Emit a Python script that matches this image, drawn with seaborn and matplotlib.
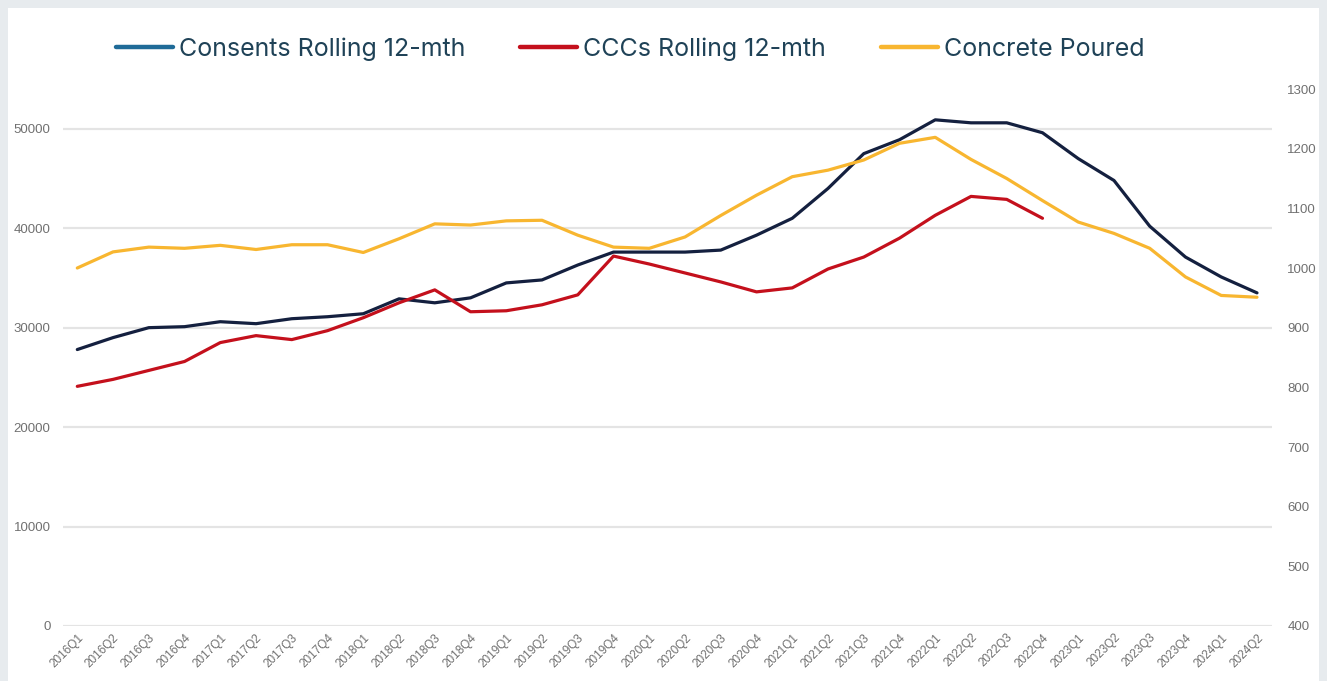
import numpy as np
import pandas as pd
import matplotlib
matplotlib.use('Agg')
import matplotlib.pyplot as plt
from matplotlib.lines import Line2D
from matplotlib.patches import Rectangle
import seaborn as sns

# Quarters shown on the x axis.
quarters = [f'{y}Q{q}' for y in range(2016, 2025) for q in range(1, 5)][:34]

# Values.
consents = [27800, 29000, 30000, 30100, 30600, 30400, 30900, 31100, 31400, 32900,
            32500, 33000, 34500, 34800, 36300, 37600, 37600, 37600, 37800, 39300,
            41000, 44000, 47500, 48900, 50900, 50600, 50600, 49600, 47000, 44800,
            40200, 37100, 35100, 33500]
cccs = [24100, 24800, 25700, 26600, 28500, 29200, 28800, 29700, 31000, 32500,
        33800, 31600, 31700, 32300, 33300, 37200, 36400, 35500, 34600, 33600,
        34000, 35900, 37100, 39000, 41300, 43200, 42900, 41000]
concrete = [1000, 1027, 1035, 1033, 1038, 1031, 1039, 1039, 1026, 1049,
            1074, 1072, 1079, 1080, 1055, 1035, 1033, 1052, 1088, 1122,
            1153, 1164, 1181, 1209, 1219, 1182, 1150, 1113, 1077, 1058,
            1033, 985, 954, 951]

left_ticks = [0, 10000, 20000, 30000, 40000, 50000]
right_ticks = [400, 500, 600, 700, 800, 900, 1000, 1100, 1200, 1300]

df = pd.DataFrame({'pos': np.arange(len(quarters)), 'quarter': quarters,
                   'consents': consents, 'concrete': concrete})
df_ccc = pd.DataFrame({'pos': np.arange(len(cccs)), 'cccs': cccs})

navy = '#14203f'
red = '#c4101c'
gold = '#f8b630'

sns.set_style('white')
fig = plt.figure(figsize=(13.27, 6.81), dpi=100)
fig.patch.set_facecolor('#e7ebee')
# white card on the grey page
fig.patches.append(Rectangle((8 / 1327, 0), 1311 / 1327, 673 / 681,
                             transform=fig.transFigure, facecolor='white',
                             edgecolor='none', zorder=-10))

ax = fig.add_axes([63 / 1327, 55 / 681, 1209 / 1327, 537 / 681])
ax.patch.set_alpha(0)
ax2 = ax.twinx()
ax2.patch.set_alpha(0)

sns.lineplot(data=df, x='pos', y='consents', ax=ax, color=navy, linewidth=2.3)
sns.lineplot(data=df_ccc, x='pos', y='cccs', ax=ax, color=red, linewidth=2.3)
sns.lineplot(data=df, x='pos', y='concrete', ax=ax2, color=gold, linewidth=2.3)

for line in ax.lines + ax2.lines:
    line.set_solid_joinstyle('round')
    line.set_solid_capstyle('round')

ax.set_xlim(-0.4, 33.42)
ax.set_ylim(0, 54000)
ax2.set_ylim(400, 1300)

ax.set_yticks(left_ticks)
ax2.set_yticks(right_ticks)
ax.set_xticks(df['pos'])
ax.set_xticklabels(quarters, rotation=45, ha='right', rotation_mode='anchor')

ax.yaxis.grid(True, color='#e4e4e4', linewidth=1.6)
ax.xaxis.grid(False)
ax2.grid(False)
ax.set_axisbelow(True)
for a in (ax, ax2):
    for s in a.spines.values():
        s.set_visible(False)
    a.set_xlabel('')
    a.set_ylabel('')

ax.tick_params(axis='y', length=0, pad=9, labelsize=9.5, labelcolor='#707070')
ax2.tick_params(axis='y', length=0, pad=11, labelsize=9.5, labelcolor='#707070')
ax.tick_params(axis='x', length=0, pad=4, labelsize=8.5, labelcolor='#707070')
for lab in ax.get_yticklabels() + ax2.get_yticklabels() + ax.get_xticklabels():
    lab.set_fontfamily('Liberation Sans')

handles = [Line2D([0], [0], color='#1f6b98', linewidth=3.2),
           Line2D([0], [0], color=red, linewidth=3.2),
           Line2D([0], [0], color=gold, linewidth=3.2)]
labels = ['Consents Rolling 12-mth', 'CCCs Rolling 12-mth', 'Concrete Poured']
fig.legend(handles, labels, loc='center', bbox_to_anchor=(0.475, 0.928),
           ncol=3, frameon=False, handlelength=2.28, handletextpad=0.24,
           columnspacing=2.2, prop={'family': 'Inter', 'size': 18},
           labelcolor='#1f4257')

fig.savefig('out.png', dpi=100, facecolor=fig.get_facecolor())
